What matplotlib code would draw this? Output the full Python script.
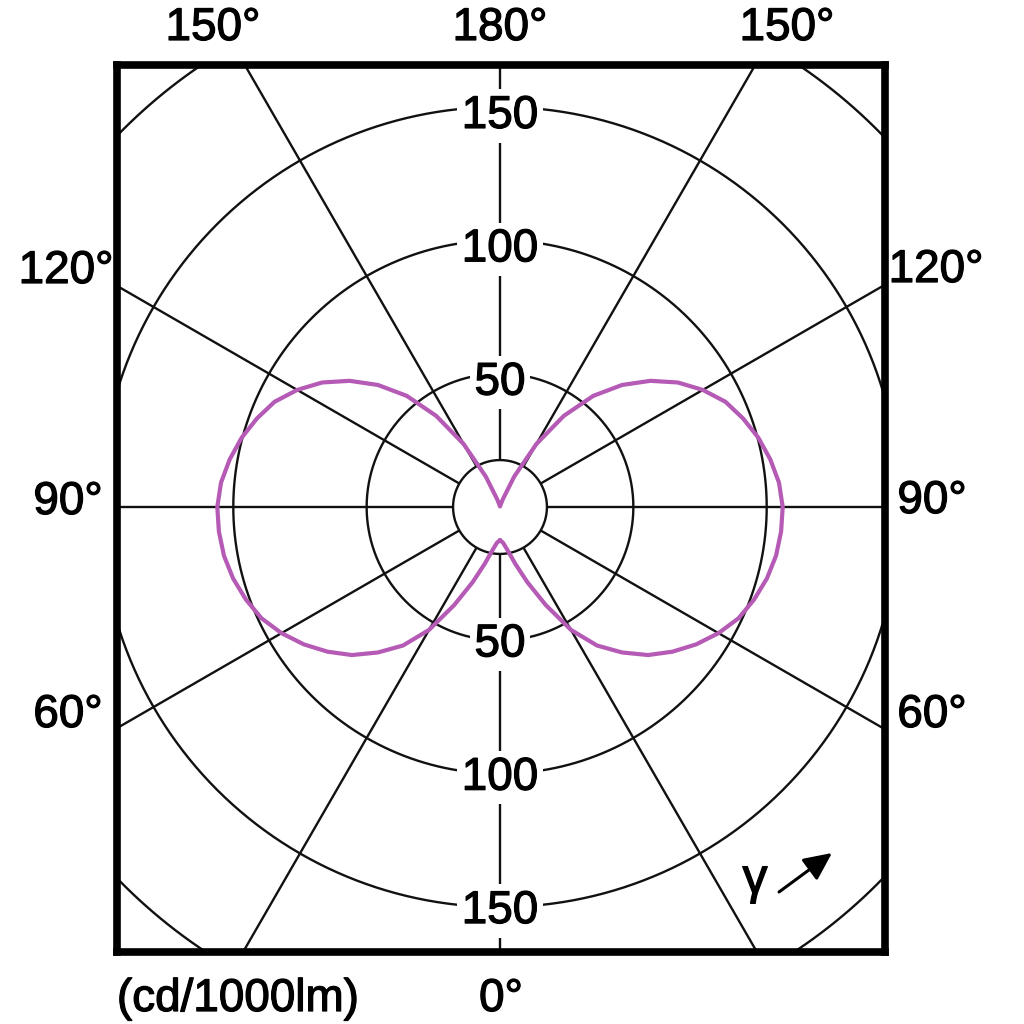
import numpy as np
import matplotlib
matplotlib.use("Agg")
import matplotlib.pyplot as plt
import matplotlib.patheffects as pe

# ---------------- data ----------------
gamma_deg = [0, 5, 10, 15, 20, 25, 30, 35, 40, 45, 50, 55, 60, 65, 70, 75, 80, 85, 90,
             95, 100, 105, 110, 115, 120, 125, 130, 135, 140, 145, 150, 155, 160, 165,
             170, 175, 180]
intensity = [12.4, 13.5, 16.5, 22.0, 30.0, 40.5, 53.2, 63.4, 71.2, 78.5, 84.4, 89.8, 94.6,
             98.7, 101.4, 103.6, 105.1, 105.8, 106.0,
             105.0, 102.9, 100.3, 97.0, 93.3, 87.8, 81.4, 73.6, 64.7, 54.4, 41.7, 27.3,
             12.5, 3.0, 0.8, 0.3, 0.2, 0.2]

ring_values = [50, 100, 150]
outer_ring = 200
inner_ring = 17.6
spoke_angles = [0, 30, 60, 90, 120, 150, 180, 210, 240, 270, 300, 330]

angle_labels = ["150°", "180°", "150°", "120°", "120°", "90°", "90°", "60°", "60°",
                "(cd/1000lm)", "0°"]

# ---------------- layout ----------------
FIG = 1024
K = 2.667          # pixels per cd/klm
CX, CY = 500, 507  # pole in pixels
L, R, T, B = 117, 885, 65, 952
FS = 33

plt.rcParams["font.family"] = ["Liberation Sans", "DejaVu Sans"]
heavy = [pe.withStroke(linewidth=0.9, foreground="black")]

fig = plt.figure(figsize=(FIG / 100, FIG / 100), dpi=100)
ax = fig.add_axes([L / FIG, (FIG - B) / FIG, (R - L) / FIG, (B - T) / FIG])
ax.set_xlim((L - CX) / K, (R - CX) / K)
ax.set_ylim(-(B - CY) / K, (CY - T) / K)
ax.set_xticks([])
ax.set_yticks([])
for s in ax.spines.values():
    s.set_linewidth(5.5)
    s.set_color("black")
    s.set_zorder(10)

grid_kw = dict(color="#111111", lw=1.7, solid_capstyle="butt", zorder=2)
t = np.linspace(0, 2 * np.pi, 721)
for rv in ring_values + [outer_ring, inner_ring]:
    ax.plot(rv * np.sin(t), rv * np.cos(t), **grid_kw)
for a in spoke_angles:
    th = np.radians(a)
    ax.plot([inner_ring * np.sin(th), 260 * np.sin(th)],
            [-inner_ring * np.cos(th), -260 * np.cos(th)], **grid_kw)

# ring labels with white background
for rv in ring_values:
    for sign, off in ((1, -21), (-1, -16)):
        ax.text(0, sign * rv + off / K, str(rv), ha="center", va="baseline",
                fontsize=FS, color="black", zorder=5, path_effects=heavy,
                bbox=dict(boxstyle="square,pad=0.1", fc="white", ec="none"))

# luminous intensity curve (symmetric C-planes)
g = np.radians(np.array(gamma_deg))
I = np.array(intensity)
xr = I * np.sin(g)
yr = -I * np.cos(g)
xs = np.concatenate([xr, -xr[::-1]])
ys = np.concatenate([yr, yr[::-1]])
ax.plot(xs, ys, color="#B55AB5", lw=3.0, zorder=6, solid_joinstyle="round",
        solid_capstyle="round")

# outside angle labels (pixel positions: x centre, baseline)
pos = [(213, 40), (500, 40), (787, 40), (66, 283), (936, 282), (68, 514), (932, 513),
       (68, 727), (932, 727), (238, 1011), (501, 1011)]
for txt, (px, py) in zip(angle_labels, pos):
    fig.text(px / FIG, 1 - py / FIG, txt, ha="center", va="baseline", fontsize=FS,
             color="black", path_effects=heavy)

# gamma symbol and arrow
fig.text(755 / FIG, 1 - 893 / FIG, "γ", ha="center", va="baseline", fontsize=36,
         color="black", path_effects=heavy)
ax.annotate("", xy=(832 / FIG, 1 - 853 / FIG), xytext=(779 / FIG, 1 - 892 / FIG),
            xycoords="figure fraction", textcoords="figure fraction",
            arrowprops=dict(arrowstyle="-|>,head_length=1.7,head_width=0.8",
                            color="black", lw=2.2, shrinkA=0, shrinkB=0), zorder=7)

fig.savefig("out.png", dpi=100, facecolor="white")
